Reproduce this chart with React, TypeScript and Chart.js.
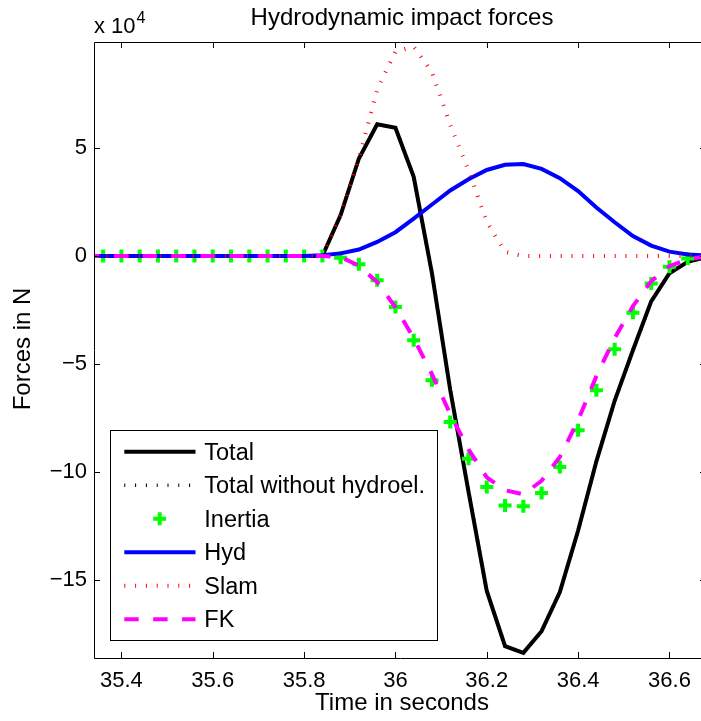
import { useEffect, useRef } from 'react';
import { Chart, registerables } from 'chart.js';

Chart.register(...registerables);

// Time axis (s)
const times = [
  35.32, 35.36, 35.40, 35.44, 35.48, 35.52, 35.56, 35.60, 35.64, 35.68, 35.72, 35.76,
  35.80, 35.84, 35.88, 35.92, 35.96, 36.00, 36.04, 36.08, 36.12, 36.16, 36.20, 36.24,
  36.28, 36.32, 36.36, 36.40, 36.44, 36.48, 36.52, 36.56, 36.60, 36.64, 36.68,
];

// Forces, in units of 10^4 N
const total = [
  0, 0, 0, 0, 0, 0, 0, 0, 0, 0, 0, 0, 0, 0,
  1.89, 4.51, 6.09, 5.93, 3.66, -0.8, -6.2, -10.9, -15.5, -18.05, -18.36, -17.36,
  -15.55, -12.7, -9.5, -6.7, -4.36, -2.1, -0.8, -0.27, -0.05,
];
const totalWithoutHydroel = [
  0, 0, 0, 0, 0, 0, 0, 0, 0, 0, 0, 0, 0, 0,
  1.89, 4.51, 6.09, 5.93, 3.66, -0.8, -6.2, -10.9, -15.5, -18.05, -18.36, -17.36,
  -15.55, -12.7, -9.5, -6.7, -4.36, -2.1, -0.8, -0.27, -0.05,
];
const inertia = [
  0, 0, 0, 0, 0, 0, 0, 0, 0, 0, 0, 0, 0, 0,
  -0.08, -0.38, -1.12, -2.36, -3.9, -5.75, -7.68, -9.38, -10.69, -11.54, -11.58, -10.97,
  -9.76, -8.06, -6.21, -4.31, -2.63, -1.27, -0.5, -0.12, -0.02,
];
const hyd = [
  0, 0, 0, 0, 0, 0, 0, 0, 0, 0, 0, 0, 0, 0.03,
  0.12, 0.3, 0.65, 1.1, 1.73, 2.38, 3.03, 3.55, 3.98, 4.22, 4.25, 4.03,
  3.6, 3.0, 2.24, 1.56, 0.92, 0.48, 0.2, 0.07, 0.02,
];
const slam = [
  0, 0, 0, 0, 0, 0, 0, 0, 0, 0, 0, 0, 0, 0,
  1.9, 4.5, 7.7, 9.45, 9.68, 8.5, 6.06, 3.97, 1.58, 0.19, 0, 0,
  0, 0, 0, 0, 0, 0, 0, 0, 0,
];
const fk = [
  0, 0, 0, 0, 0, 0, 0, 0, 0, 0, 0, 0, 0, 0,
  -0.05, -0.45, -1.21, -2.37, -3.8, -5.47, -7.32, -8.95, -10.24, -10.84, -11.03, -10.4,
  -9.3, -7.6, -5.56, -3.8, -2.32, -1.17, -0.47, -0.15, -0.02,
];

const seriesNames = ['Total', 'Total without hydroel.', 'Inertia', 'Hyd', 'Slam', 'FK'];

const xTickValues = [35.4, 35.6, 35.8, 36, 36.2, 36.4, 36.6];
const xTickLabels = ['35.4', '35.6', '35.8', '36', '36.2', '36.4', '36.6'];
const yTickValues = [-15, -10, -5, 0, 5];
const yTickLabels = ['\u221215', '\u221210', '\u22125', '0', '5'];

const X_MIN = 35.34;
const X_MAX = 36.68;
const Y_MIN = -18.6;
const Y_MAX = 9.9;

const FONT = '"Liberation Sans", Arial, Helvetica, sans-serif';

const pts = (ys: number[]) => times.map((t, i) => ({ x: t, y: ys[i] }));

const decorPlugin = {
  id: 'matlabDecor',
  afterDraw(chart: any) {
    const { ctx, chartArea: a, scales } = chart;
    const xs = scales.x;
    const ys = scales.y;
    ctx.save();
    ctx.setLineDash([]);
    // axes box
    ctx.strokeStyle = '#000';
    ctx.lineWidth = 1;
    ctx.beginPath();
    ctx.moveTo(a.left + 0.5, a.top + 0.5);
    ctx.lineTo(a.right + 0.5, a.top + 0.5);
    ctx.lineTo(a.right + 0.5, a.bottom + 0.5);
    ctx.lineTo(a.left + 0.5, a.bottom + 0.5);
    ctx.closePath();
    ctx.stroke();
    // inward ticks
    const tl = 6;
    ctx.beginPath();
    xTickValues.forEach((v) => {
      const px = Math.round(xs.getPixelForValue(v)) + 0.5;
      ctx.moveTo(px, a.bottom);
      ctx.lineTo(px, a.bottom - tl);
      ctx.moveTo(px, a.top);
      ctx.lineTo(px, a.top + tl);
    });
    yTickValues.forEach((v) => {
      const py = Math.round(ys.getPixelForValue(v)) + 0.5;
      ctx.moveTo(a.left, py);
      ctx.lineTo(a.left + tl, py);
      ctx.moveTo(a.right, py);
      ctx.lineTo(a.right - tl, py);
    });
    ctx.stroke();

    // texts
    ctx.fillStyle = '#000';
    ctx.textBaseline = 'alphabetic';
    ctx.textAlign = 'center';
    ctx.font = `24px ${FONT}`;
    ctx.fillText('Hydrodynamic impact forces', 402, 24.5);
    ctx.fillText('Time in seconds', 402, 710);
    ctx.save();
    ctx.translate(30, 349);
    ctx.rotate(-Math.PI / 2);
    ctx.fillText('Forces in N', 0, 0);
    ctx.restore();

    ctx.textAlign = 'left';
    ctx.font = `22px ${FONT}`;
    ctx.fillText('x 10', 94, 32.5);
    const w = ctx.measureText('x 10').width;
    ctx.font = `16px ${FONT}`;
    ctx.fillText('4', 94 + w + 1, 22.5);

    // legend
    const L = { left: 110, top: 430, right: 437, bottom: 640 };
    ctx.fillStyle = '#fff';
    ctx.fillRect(L.left, L.top, L.right - L.left, L.bottom - L.top);
    ctx.strokeStyle = '#000';
    ctx.lineWidth = 1;
    ctx.strokeRect(L.left + 0.5, L.top + 0.5, L.right - L.left, L.bottom - L.top);
    const datasets = chart.data.datasets;
    ctx.font = `23.5px ${FONT}`;
    datasets.forEach((ds: any, i: number) => {
      const cy = 451.7 + i * 33.5;
      if (ds.showLine === false) {
        const cx = 159.7;
        const r = ds.pointRadius;
        ctx.setLineDash([]);
        ctx.strokeStyle = ds.pointBorderColor;
        ctx.lineWidth = ds.pointBorderWidth;
        ctx.lineCap = 'butt';
        ctx.beginPath();
        ctx.moveTo(cx - r, cy);
        ctx.lineTo(cx + r, cy);
        ctx.moveTo(cx, cy - r);
        ctx.lineTo(cx, cy + r);
        ctx.stroke();
      } else {
        ctx.setLineDash(ds.borderDash || []);
        ctx.lineDashOffset = 0;
        ctx.strokeStyle = ds.borderColor;
        ctx.lineWidth = ds.borderWidth;
        ctx.lineCap = 'butt';
        ctx.beginPath();
        ctx.moveTo(124.3, cy);
        ctx.lineTo(195.5, cy);
        ctx.stroke();
      }
      ctx.setLineDash([]);
      ctx.fillStyle = '#000';
      ctx.fillText(ds.label, 204.3, cy + 8);
    });
    ctx.restore();
  },
};

export default function App() {
  const ref = useRef<HTMLCanvasElement | null>(null);
  useEffect(() => {
    const canvas = ref.current;
    if (!canvas) return;
    const chart = new Chart(canvas, {
      type: 'line',
      data: {
        datasets: [
          {
            label: seriesNames[0],
            data: pts(total),
            borderColor: '#000000',
            borderWidth: 4,
            pointRadius: 0,
            fill: false,
            order: 6,
            clip: 0,
          },
          {
            label: seriesNames[1],
            data: pts(totalWithoutHydroel),
            borderColor: '#000000',
            borderWidth: 3.5,
            borderDash: [1, 9.8],
            pointRadius: 0,
            fill: false,
            order: 5,
            clip: 0,
          },
          {
            label: seriesNames[2],
            data: pts(inertia),
            showLine: false,
            pointStyle: 'cross',
            pointRadius: 6.5,
            pointBorderWidth: 4,
            pointBorderColor: '#00ff00',
            pointBackgroundColor: '#00ff00',
            borderColor: '#00ff00',
            order: 4,
            clip: 0,
          },
          {
            label: seriesNames[3],
            data: pts(hyd),
            borderColor: '#0000ff',
            borderWidth: 4,
            pointRadius: 0,
            fill: false,
            order: 3,
            clip: 0,
          },
          {
            label: seriesNames[4],
            data: pts(slam),
            borderColor: '#ff0000',
            borderWidth: 4,
            borderDash: [1, 9.8],
            pointRadius: 0,
            fill: false,
            order: 2,
            clip: 0,
          },
          {
            label: seriesNames[5],
            data: pts(fk),
            borderColor: '#ff00ff',
            borderWidth: 4,
            borderDash: [14.4, 14.5],
            pointRadius: 0,
            fill: false,
            order: 1,
            clip: 0,
          },
        ] as any,
      },
      options: {
        responsive: false,
        animation: false,
        devicePixelRatio: 1,
        events: [],
        layout: { padding: { top: 42, right: 14, left: 0, bottom: 0 } },
        plugins: {
          legend: { display: false },
          title: { display: false },
          tooltip: { enabled: false },
        },
        scales: {
          x: {
            type: 'linear',
            min: X_MIN,
            max: X_MAX,
            grid: { display: false, drawTicks: false },
            border: { display: false },
            afterBuildTicks: (s: any) => {
              s.ticks = xTickValues.map((v) => ({ value: v }));
            },
            afterFit: (s: any) => {
              s.height = 63;
            },
            ticks: {
              autoSkip: false,
              maxRotation: 0,
              minRotation: 0,
              padding: 10,
              color: '#000',
              font: { family: FONT, size: 22 },
              callback: (v: any) => {
                const i = xTickValues.findIndex((t) => Math.abs(t - Number(v)) < 1e-9);
                return i >= 0 ? xTickLabels[i] : '';
              },
            },
          },
          y: {
            type: 'linear',
            min: Y_MIN,
            max: Y_MAX,
            grid: { display: false, drawTicks: false },
            border: { display: false },
            afterBuildTicks: (s: any) => {
              s.ticks = yTickValues.map((v) => ({ value: v }));
            },
            afterFit: (s: any) => {
              s.width = 94;
            },
            ticks: {
              autoSkip: false,
              padding: 7,
              color: '#000',
              font: { family: FONT, size: 22 },
              callback: (v: any) => {
                const i = yTickValues.findIndex((t) => Math.abs(t - Number(v)) < 1e-9);
                return i >= 0 ? yTickLabels[i] : '';
              },
            },
          },
        },
      } as any,
      plugins: [decorPlugin],
    });
    return () => chart.destroy();
  }, []);

  return (
    <div
      style={{
        position: 'absolute',
        left: 0,
        top: 0,
        width: 701,
        height: 721,
        overflow: 'hidden',
        background: '#fff',
      }}
    >
      <canvas ref={ref} width={720} height={721} style={{ display: 'block', width: 720, height: 721 }} />
    </div>
  );
}
